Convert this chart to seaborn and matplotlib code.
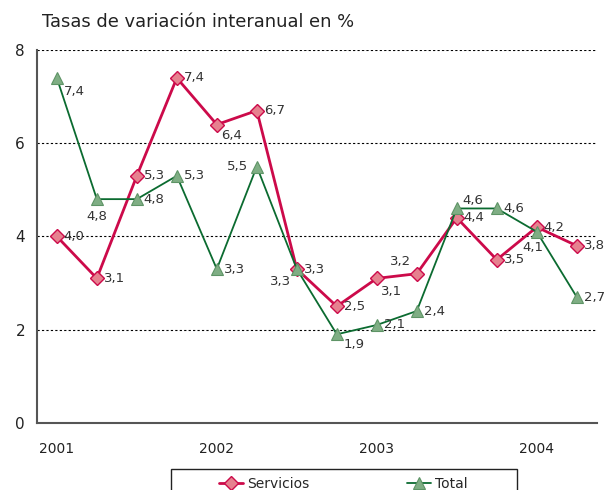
import numpy as np
import pandas as pd
import matplotlib
matplotlib.use("Agg")
import matplotlib.pyplot as plt
import seaborn as sns
from matplotlib.patches import Rectangle

quarters = ["2001-I", "2001-II", "2001-III", "2001-IV",
            "2002-I", "2002-II", "2002-III", "2002-IV",
            "2003-I", "2003-II", "2003-III", "2003-IV",
            "2004-I", "2004-II"]
servicios = [4.0, 3.1, 5.3, 7.4, 6.4, 6.7, 3.3, 2.5, 3.1, 3.2, 4.4, 3.5, 4.2, 3.8]
total = [7.4, 4.8, 4.8, 5.3, 3.3, 5.5, 3.3, 1.9, 2.1, 2.4, 4.6, 4.6, 4.1, 2.7]
year_labels = ["2001", "2002", "2003", "2004"]

# label offsets in points (dx, dy, ha, va)
off_serv = [(5, 0, "left", "center")] * 14
off_serv[4] = (3, -3, "left", "top")
off_serv[6] = (-4, -4, "right", "top")
off_serv[8] = (3, -5, "left", "top")
off_serv[9] = (-4, 4, "right", "bottom")
off_total = [(5, 0, "left", "center")] * 14
off_total[0] = (5, -5, "left", "top")
off_total[1] = (0, -8, "center", "top")
off_total[5] = (-6, 0, "right", "center")
off_total[7] = (5, -3, "left", "top")
off_total[10] = (4, 1, "left", "bottom")
off_total[12] = (-3, -7, "center", "top")

sns.set_style("white")
plt.rcParams["font.family"] = ["DejaVu Sans"]

df = pd.DataFrame({
    "x": list(range(14)) * 2,
    "valor": servicios + total,
    "serie": ["Servicios"] * 14 + ["Total"] * 14,
})

fig = plt.figure(figsize=(6.04, 4.90), dpi=100)
ax = fig.add_axes([0.061, 0.137, 0.927, 0.761])

red = "#cc0a4a"
green = "#0b6b30"
sns.lineplot(data=df[df.serie == "Servicios"], x="x", y="valor", ax=ax,
             color=red, lw=2, marker="D", markersize=7,
             markerfacecolor="#e6818f", markeredgecolor=red, markeredgewidth=1,
             label="Servicios")
sns.lineplot(data=df[df.serie == "Total"], x="x", y="valor", ax=ax,
             color=green, lw=1.3, marker="^", markersize=9,
             markerfacecolor="#7fae84", markeredgecolor="#5e9466", markeredgewidth=0.8,
             label="Total")

for vals, offs in [(servicios, off_serv), (total, off_total)]:
    for i, v in enumerate(vals):
        dx, dy, ha, va = offs[i]
        ax.annotate(f"{v:.1f}".replace(".", ","), (i, v), xytext=(dx, dy),
                    textcoords="offset points", ha=ha, va=va,
                    fontsize=9.5, color="#333333")

ax.set_xlim(-0.5, 13.5)
ax.set_ylim(0, 8)
ax.set_yticks([0, 2, 4, 6, 8])
for y in [2, 4, 6, 8]:
    ax.axhline(y, color="black", lw=0.8, ls=(0, (2, 2)), zorder=0)

ax.set_xticks(np.arange(-0.5, 14, 1))
ax.set_xticklabels([])
ax.set_xticks([0, 4, 8, 12], minor=True)
ax.set_xticklabels(year_labels, minor=True)
ax.tick_params(axis="x", which="major", length=5, width=1, color="#444444", direction="out")
ax.tick_params(axis="x", which="minor", length=0, pad=14, labelsize=10, labelcolor="#222222")
ax.tick_params(axis="y", length=5, width=1, color="#444444", direction="out",
               labelsize=11, labelcolor="#222222")
ax.set_xlabel("")
ax.set_ylabel("")

sns.despine(ax=ax)
for s in ["left", "bottom"]:
    ax.spines[s].set_color("#555555")
    ax.spines[s].set_linewidth(1.5)

ax.get_legend().remove()
h, l = ax.get_legend_handles_labels()
leg = fig.legend(h, l, loc="upper left", bbox_to_anchor=(0.3626, 0.027), ncol=2,
                 frameon=False, columnspacing=7.0, handlelength=1.75,
                 handletextpad=0.3, fontsize=10, borderpad=0, borderaxespad=0)
fig.patches.append(Rectangle((0.283, -0.1), 0.573, 0.1429, transform=fig.transFigure,
                             fill=False, edgecolor="#222222", lw=1))

fig.text(0.069, 0.955, "Tasas de variación interanual en %", fontsize=12.9,
         color="#222222", ha="left", va="center")

fig.savefig("out.png", dpi=100)
